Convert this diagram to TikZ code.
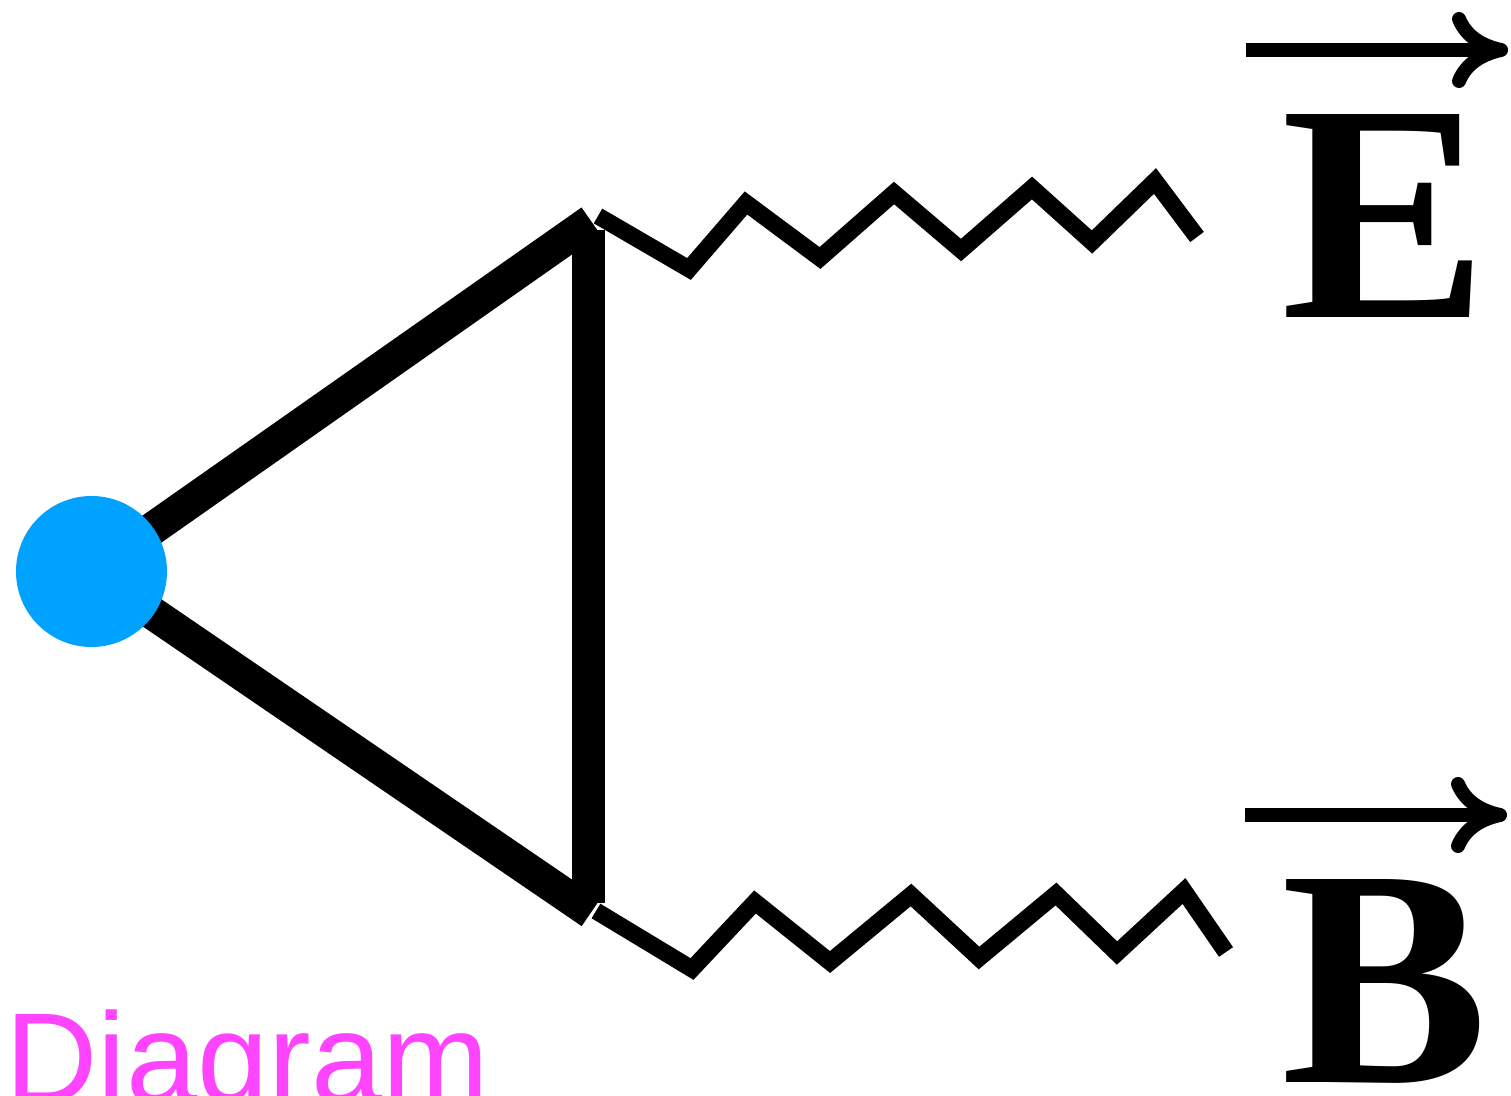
\documentclass[tikz,border=0pt]{standalone}
\usepackage{fontspec}
\setmainfont{Liberation Serif}
\newfontfamily\labelsans{Liberation Sans}
\usetikzlibrary{arrows.meta}
\definecolor{dotblue}{RGB}{0,162,255}
\definecolor{tagpink}{RGB}{255,68,255}
\begin{document}
\begin{tikzpicture}[x=0.5pt,y=-0.5pt,
  tri/.style={line width=16.5pt},
  zig/.style={line width=8.5pt, miter limit=10},
  vecarrow/.style={line width=7pt,-{Computer Modern Rightarrow[length=28pt,width=38pt]}},
  lbl/.style={font=\fontsize{155}{155}\selectfont\bfseries, inner sep=0, anchor=base west},
  dot/.style={circle, fill=dotblue, minimum size=75.5pt, inner sep=0},
]
\useasboundingbox (0,0) rectangle (1511,1096);
% photon lines
\coordinate (zt0) at (598,216);
\coordinate (zt9) at (1197,237);
\coordinate (zb0) at (596,911);
\coordinate (zb9) at (1226,952);
\draw[zig] (zt0) -- (689,269) -- (746,203) -- (820,258) -- (894,193) -- (961,250)
  -- (1032,188) -- (1092,242) -- (1155,181) -- (zt9);
\draw[zig] (zb0) -- (692,969) -- (755,902) -- (830,962) -- (911,895) -- (979,958)
  -- (1056,894) -- (1117,953) -- (1184,891) -- (zb9);
% triangle
\coordinate (apex) at (91.5,571.5);
\coordinate (ttop) at (591,221);
\coordinate (tbot) at (591,912.5);
\coordinate (vtop) at (588,230);
\coordinate (vbot) at (588,903);
\draw[tri] (apex) -- (ttop);
\draw[tri] (apex) -- (tbot);
\draw[tri] (vtop) -- (vbot);
\node[dot] (source) at (apex) {};
% labels
\node[lbl] (E) at (1281,318) {E};
\node[lbl] (B) at (1281,1082) {B};
\coordinate (Ea) at (1246,50);
\coordinate (Eb) at (1508,50);
\coordinate (Ba) at (1245,815);
\coordinate (Bb) at (1507,815);
\draw[vecarrow] (Ea) -- (Eb);
\draw[vecarrow] (Ba) -- (Bb);
\node[font=\labelsans\fontsize{64}{64}\selectfont, text=tagpink, inner sep=0, anchor=base west] (title) at (5,1102) {Diagram};
\end{tikzpicture}
\end{document}
